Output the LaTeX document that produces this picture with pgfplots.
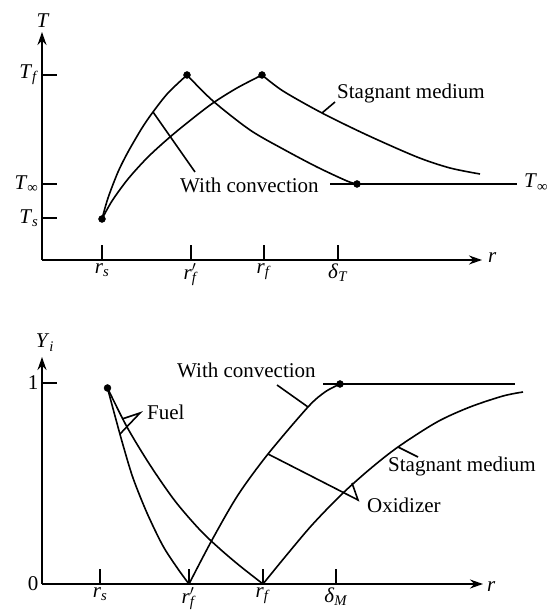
\documentclass[border=0pt]{standalone}
\usepackage{fontspec}
\setmainfont{Liberation Serif}
\usepackage{pgfplots}
\pgfplotsset{compat=1.18}
\usetikzlibrary{arrows.meta}
\newcommand{\sub}[2]{\textit{#1}\textsubscript{\textit{#2}}}
\newcommand{\rfp}{\textit{r}\rlap{$^{\prime}$}\textsubscript{\textit{f}}}
\tikzset{ld/.style={line width=1.6pt,black}}
\begin{document}
\begin{tikzpicture}[font=\fontsize{21}{25}\selectfont]
\pgfplotsset{
 schem/.style={x=1pt,y=1pt,anchor=south west,axis lines=left,clip=false,
  axis line style={line width=1.8pt},
  x axis line style={-{Stealth[length=13pt,width=9pt]}},
  y axis line style={-{Stealth[length=13pt,width=9pt]}},
  tick align=inside, major tick length=15pt,
  major tick style={black,line width=1.6pt},
  tick label style={font=\fontsize{21}{25}\selectfont},
 },
 crv/.style={smooth,no markers,black,line width=1.6pt},
 dot/.style={only marks,mark=*,mark size=3.5pt,black},
}
% ---------------- top panel: temperature ----------------
\begin{axis}[schem, at={(42pt,355pt)}, xmin=42, xmax=482, ymin=355, ymax=583,
 xtick={102,191,264,338},
 xticklabels={\sub{r}{s}, {\rfp}, \sub{r}{f}, \sub{δ}{T}},
 ytick={397,431,540},
 yticklabels={\sub{T}{s}, {\textit{T}\textsubscript{∞}}, \sub{T}{f}}]
% with convection
\addplot[crv] coordinates {(102,396)(108,417)(118,443)(128,463)(142,487)(153,503)(168,522)(187,540)};
\addplot[crv] coordinates {(187,540)(213,514)(250,485)(283,466)(317,448)(347,434)(357,431)};
% stagnant medium
\addplot[crv] coordinates {(102,396)(112,414)(128,436)(148,458)(170,478)(192,496)(213,512)(237,527)(262,540)};
\addplot[crv] coordinates {(262,540)(283,524)(322,502)(367,480)(417,458)(450,447)(480,441)};
% ambient level
\addplot[ld] coordinates {(330,431)(517,431)};
\addplot[dot] coordinates {(102,396)(187,540)(262,540)(357,431)};
\draw[ld] (axis cs:153,503) -- (axis cs:195,443);
\draw[ld] (axis cs:322,502) -- (axis cs:335,513);
\node[anchor=base west,inner sep=0pt] at (axis cs:180,422) {With convection};
\node[anchor=base west,inner sep=0pt] at (axis cs:337,516) {Stagnant medium};
\node[anchor=base west,inner sep=0pt] at (axis cs:524,427) {\textit{T}\textsubscript{∞}};
\node[anchor=base,inner sep=0pt] at (axis cs:43,587) {\textit{T}};
\node[anchor=base west,inner sep=0pt] at (axis cs:488,352) {\textit{r}};
\end{axis}
% ---------------- bottom panel: mass fractions ----------------
\begin{axis}[schem, at={(42pt,31pt)}, xmin=42, xmax=483, ymin=31, ymax=258,
 xtick={100,189,263,336},
 xticklabels={\sub{r}{s}, {\rfp}, \sub{r}{f}, \sub{δ}{M}},
 ytick={31,232}, yticklabels={0,1}]
% fuel
\addplot[crv] coordinates {(107.5,227)(115,199)(123,170)(133,137)(147,102)(163,69)(178,46)(189,31)};
\addplot[crv] coordinates {(107.5,227)(127,188)(150,150)(175,114)(200,85)(220,66)(240,49)(263,31)};
% oxidizer
\addplot[crv] coordinates {(189,31)(212,75)(238,120)(268,161)(308,208)(325,223)(340,231)};
\addplot[crv] coordinates {(263,31)(285,58)(312,90)(342,121)(370,146)(398,168)(437,193)(470,208)(503,219)(523,223)};
\addplot[ld] coordinates {(323,231)(515,231)};
\addplot[dot] coordinates {(107.5,227)(340,231)};
\draw[ld] (axis cs:277,230) -- (axis cs:308,208);
\draw[ld] (axis cs:120,181) -- (axis cs:140,202) -- (axis cs:122,196);
\draw[ld] (axis cs:268,161) -- (axis cs:358,115) -- (axis cs:352,132);
\draw[ld] (axis cs:398,168) -- (axis cs:418,158);
\node[anchor=base west,inner sep=0pt] at (axis cs:177,237) {With convection};
\node[anchor=base west,inner sep=0pt] at (axis cs:147,195) {Fuel};
\node[anchor=base west,inner sep=0pt] at (axis cs:367,102) {Oxidizer};
\node[anchor=base west,inner sep=0pt] at (axis cs:388,143) {Stagnant medium};
\node[anchor=base,inner sep=0pt] at (axis cs:45,267) {\textit{Y}\textsubscript{\textit{i}}};
\node[anchor=base west,inner sep=0pt] at (axis cs:487,23) {\textit{r}};
\end{axis}
\pgfresetboundingbox
\path[use as bounding box] (0,0) rectangle (549pt,615pt);
\end{tikzpicture}
\end{document}
